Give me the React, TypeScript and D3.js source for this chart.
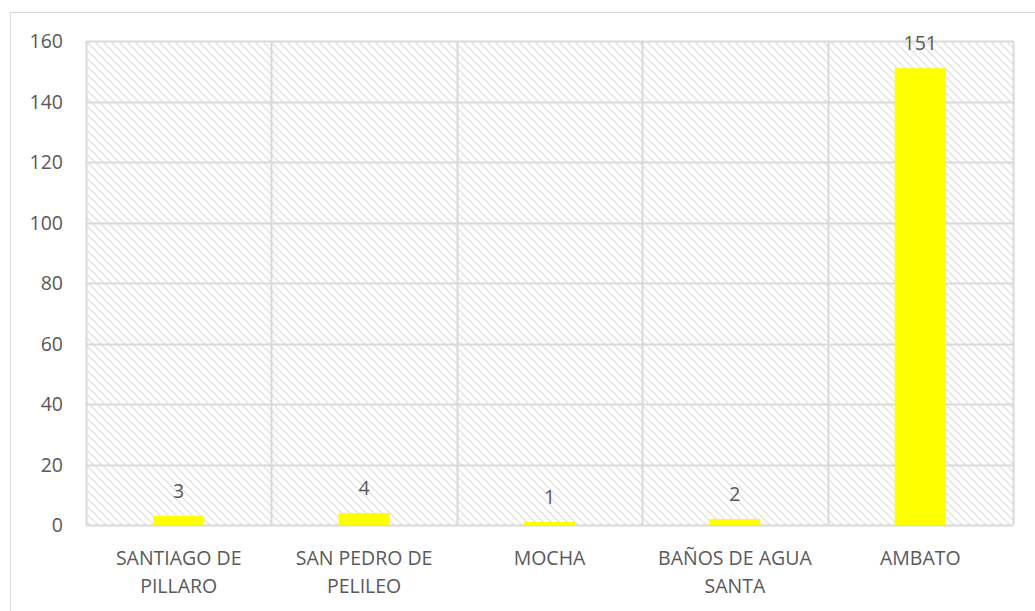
import React from 'react'
import * as d3 from 'd3'

const categories = [
  ['SANTIAGO DE', 'PILLARO'],
  ['SAN PEDRO DE', 'PELILEO'],
  ['MOCHA'],
  ['BAÑOS DE AGUA', 'SANTA'],
  ['AMBATO'],
]
const values = [3, 4, 1, 2, 151]
const yTicks = [0, 20, 40, 60, 80, 100, 120, 140, 160]

const width = 1035
const height = 611
const margin = { top: 41, right: 22, bottom: 86, left: 86 }
const font = "'Open Sans', sans-serif"
const fontSize = 19.5
const textColor = '#595959'
const gridColor = '#d9d9d9'

const App = () => {
  const innerW = width - margin.left - margin.right
  const innerH = height - margin.top - margin.bottom

  const x = d3
    .scaleBand<number>()
    .domain(d3.range(values.length))
    .range([0, innerW])
    .paddingInner(0)
    .paddingOuter(0)

  const y = d3.scaleLinear().domain([0, 160]).range([innerH, 0])

  const barW = x.bandwidth() * 0.275

  return (
    <svg
      width={width}
      height={height}
      style={{ position: 'absolute', left: 0, top: 0, background: '#fff' }}
    >
      <defs>
        <pattern
          id='hatch'
          width={8}
          height={8}
          patternUnits='userSpaceOnUse'
        >
          <path
            d='M-2,6 L2,10 M0,0 L8,8 M6,-2 L10,2'
            stroke='#e0e0e0'
            strokeWidth={1.3}
          />
        </pattern>
      </defs>

      {/* chart area border */}
      <line x1={10.5} x2={10.5} y1={12} y2={height} stroke={gridColor} />
      <line x1={10} x2={width} y1={12.5} y2={12.5} stroke={gridColor} />

      <g transform={`translate(${margin.left},${margin.top})`}>
        <rect width={innerW} height={innerH} fill='url(#hatch)' />

        {/* horizontal gridlines */}
        {yTicks.map((t) => (
          <line
            key={'h' + t}
            x1={0}
            x2={innerW}
            y1={Math.round(y(t)) + 0.5}
            y2={Math.round(y(t)) + 0.5}
            stroke={gridColor}
            strokeWidth={2}
          />
        ))}

        {/* vertical gridlines at category boundaries */}
        {d3.range(values.length + 1).map((i) => {
          const xx = i < values.length ? x(i)! : innerW
          return (
            <line
              key={'v' + i}
              x1={Math.round(xx) + 0.5}
              x2={Math.round(xx) + 0.5}
              y1={0}
              y2={innerH}
              stroke={gridColor}
              strokeWidth={2}
            />
          )
        })}

        {/* bars */}
        {values.map((v, i) => (
          <rect
            key={'b' + i}
            x={x(i)! + x.bandwidth() / 2 - barW / 2}
            y={y(v)}
            width={barW}
            height={innerH - y(v)}
            fill='#ffff00'
          />
        ))}

        {/* value labels */}
        {values.map((v, i) => (
          <text
            key={'l' + i}
            x={x(i)! + x.bandwidth() / 2}
            y={y(v) - 18}
            textAnchor='middle'
            fontFamily={font}
            fontSize={fontSize}
            fill={textColor}
          >
            {v}
          </text>
        ))}

        {/* y axis labels */}
        {yTicks.map((t) => (
          <text
            key={'y' + t}
            x={-23}
            y={y(t)}
            dy='0.36em'
            textAnchor='end'
            fontFamily={font}
            fontSize={fontSize}
            fill={textColor}
          >
            {t}
          </text>
        ))}

        {/* x axis labels */}
        {categories.map((lines, i) => (
          <text
            key={'x' + i}
            x={x(i)! + x.bandwidth() / 2}
            y={innerH + 40}
            textAnchor='middle'
            fontFamily={font}
            fontSize={fontSize}
            fill={textColor}
          >
            {lines.map((l, j) => (
              <tspan key={j} x={x(i)! + x.bandwidth() / 2} dy={j === 0 ? 0 : 28}>
                {l}
              </tspan>
            ))}
          </text>
        ))}
      </g>
    </svg>
  )
}

export default App
